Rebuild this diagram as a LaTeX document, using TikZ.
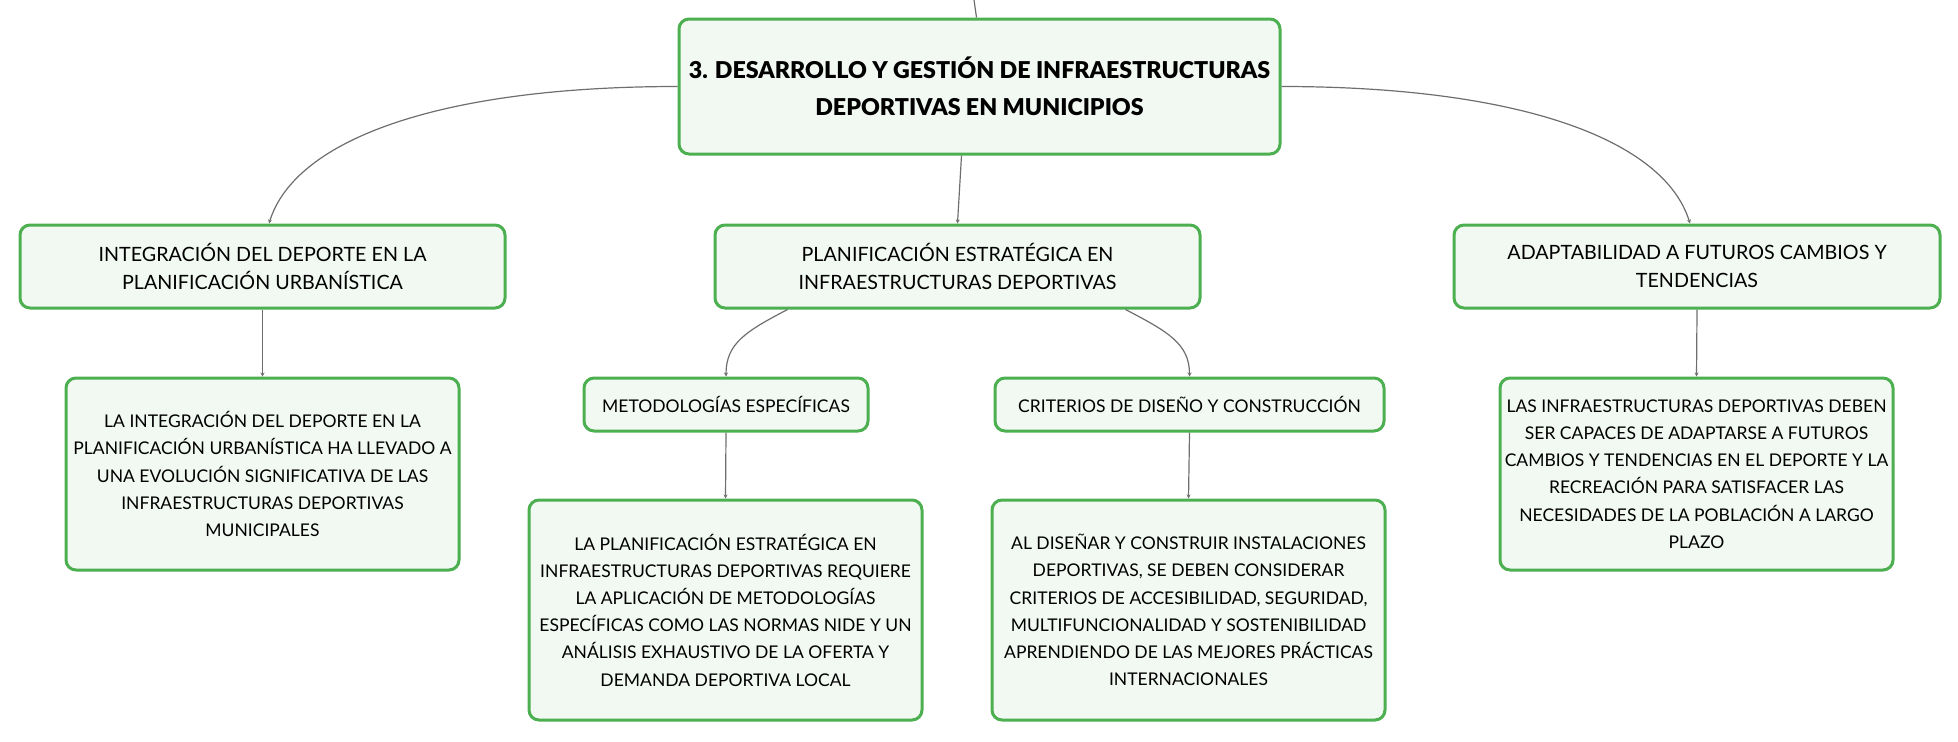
\documentclass[tikz,border=0pt]{standalone}
\usepackage{fontspec}
\setmainfont[BoldFont={Lato Black}]{Lato}
\usetikzlibrary{arrows.meta}
\definecolor{verde}{HTML}{4CAF50}
\definecolor{fondo}{HTML}{F2F9F3}
\definecolor{gris}{HTML}{6E6E6E}
\begin{document}
\begin{tikzpicture}[x=0.5pt,y=-0.5pt]
	\tikzset{c/.style={draw=verde,fill=fondo,line width=1.5pt,rounded corners=5pt,align=center,inner sep=0pt},
	t/.style={c,font=\fontsize{11.6}{18.75}\selectfont\bfseries},
	h/.style={c,font=\fontsize{9.85}{14.25}\selectfont},
	l/.style={c,font=\fontsize{8.75}{13.6}\selectfont},
	f/.style={draw=gris,line width=0.6pt,-{Stealth[length=2pt,width=2pt]}}}
	\useasboundingbox(0,0)rectangle(1958,741);
	\path(979.5,86.5)node[t,minimum width=300.5pt,minimum height=67.5pt](R){3. DESARROLLO Y GESTIÓN DE INFRAESTRUCTURAS\\DEPORTIVAS EN MUNICIPIOS};
	\path(262.5,266.5)node[h,minimum width=242.5pt,minimum height=41.5pt](A1){INTEGRACIÓN DEL DEPORTE EN LA\\PLANIFICACIÓN URBANÍSTICA};
	\path(957.5,266.5)node[h,minimum width=242.5pt,minimum height=41.5pt](B1){PLANIFICACIÓN ESTRATÉGICA EN\\INFRAESTRUCTURAS DEPORTIVAS};
	\path(1697,266.5)node[h,minimum width=243pt,minimum height=41.5pt](C1){ADAPTABILIDAD A FUTUROS CAMBIOS Y\\TENDENCIAS};
	\path(262.5,474)node[l,minimum width=196.5pt,minimum height=96pt](A2){LA INTEGRACIÓN DEL DEPORTE EN LA\\PLANIFICACIÓN URBANÍSTICA HA LLEVADO A\\UNA EVOLUCIÓN SIGNIFICATIVA DE LAS\\INFRAESTRUCTURAS DEPORTIVAS\\MUNICIPALES};
	\path(726,404.5)node[l,minimum width=142pt,minimum height=26.5pt](B2){METODOLOGÍAS ESPECÍFICAS};
	\path(1189.5,404.5)node[l,minimum width=194.5pt,minimum height=26.5pt](b2){CRITERIOS DE DISEÑO Y CONSTRUCCIÓN};
	\path(725.5,610)node[l,minimum width=196.5pt,minimum height=110pt](B3){LA PLANIFICACIÓN ESTRATÉGICA EN\\INFRAESTRUCTURAS DEPORTIVAS REQUIERE\\LA APLICACIÓN DE METODOLOGÍAS\\ESPECÍFICAS COMO LAS NORMAS NIDE Y UN\\ANÁLISIS EXHAUSTIVO DE LA OFERTA Y\\DEMANDA DEPORTIVA LOCAL};
	\path(1188.5,610)node[l,minimum width=196.5pt,minimum height=110pt](b3){AL DISEÑAR Y CONSTRUIR INSTALACIONES\\DEPORTIVAS, SE DEBEN CONSIDERAR\\CRITERIOS DE ACCESIBILIDAD, SEGURIDAD,\\MULTIFUNCIONALIDAD Y SOSTENIBILIDAD\\APRENDIENDO DE LAS MEJORES PRÁCTICAS\\INTERNACIONALES};
	\path(1696.5,474)node[l,minimum width=196.5pt,minimum height=96pt](C2){LAS INFRAESTRUCTURAS DEPORTIVAS DEBEN\\SER CAPACES DE ADAPTARSE A FUTUROS\\CAMBIOS Y TENDENCIAS EN EL DEPORTE Y LA\\RECREACIÓN PARA SATISFACER LAS\\NECESIDADES DE LA POBLACIÓN A LARGO\\PLAZO};
	\coordinate(P)at(974,0);
	\draw[draw=gris,line width=0.6pt]([xshift=-1.5pt]R.north)--(P);
	\draw[f](R.west)..controls+(-238,0)and+(26,-84)..([xshift=3.25pt]A1.north);
	\draw[f](R.east)..controls+(238,0)and+(-26,-84)..([xshift=-3.5pt]C1.north);
	\draw[f]([xshift=-9pt]R.south)--(B1.north);
	\draw[f]([xshift=-85pt]B1.south)..controls+(-42,22)and+(0,-33)..(B2.north);
	\draw[f]([xshift=84pt]B1.south)..controls+(42,22)and+(0,-33)..(b2.north);
	\foreach \x/\y in {A1/A2,C1/C2,B2/B3,b2/b3}
	\draw[f](\x.south)--(\y.north);
\end{tikzpicture}
\end{document}
